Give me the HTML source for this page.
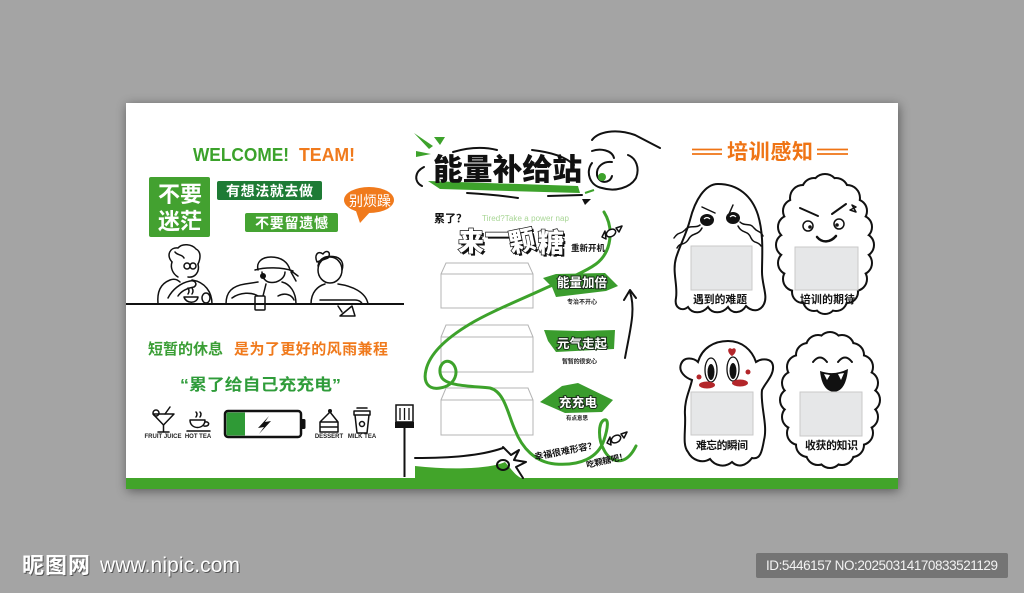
<!DOCTYPE html>
<html><head><meta charset="utf-8"><style>
html,body{margin:0;padding:0;width:1024px;height:593px;overflow:hidden;background:#a4a4a4;}
#board{position:absolute;left:126px;top:103px;width:772px;height:386px;background:#fff;box-shadow:1px 2px 10px rgba(0,0,0,.45);}
svg{position:absolute;left:0;top:0;}
text{font-family:"Liberation Sans","Noto Sans CJK SC",sans-serif;}
.ln{fill:none;stroke:#111;stroke-width:2;stroke-linecap:round;stroke-linejoin:round;}
.ln15{fill:none;stroke:#111;stroke-width:1.5;stroke-linecap:round;stroke-linejoin:round;}
</style></head><body>
<div id="board"></div>
<svg width="1024" height="593" viewBox="0 0 1024 593">
<defs>
<g id="c2">
<circle cx="862" cy="245" r="11"/><circle cx="860" cy="263" r="11"/><circle cx="855" cy="279" r="11"/><circle cx="847" cy="292" r="10"/><circle cx="836" cy="300" r="10"/><circle cx="825" cy="303" r="10"/><circle cx="814" cy="300" r="10"/><circle cx="803" cy="292" r="10"/><circle cx="795" cy="279" r="11"/><circle cx="790" cy="263" r="11"/><circle cx="788" cy="245" r="11"/><circle cx="790" cy="227" r="11"/><circle cx="795" cy="211" r="11"/><circle cx="803" cy="198" r="12"/><circle cx="814" cy="190" r="11"/><circle cx="825" cy="187" r="12"/><circle cx="836" cy="190" r="11"/><circle cx="847" cy="198" r="12"/><circle cx="855" cy="211" r="11"/><circle cx="860" cy="227" r="11"/>
</g>
<g id="c4">
<circle cx="868" cy="400" r="11"/><circle cx="866" cy="417" r="11"/><circle cx="861" cy="433" r="11"/><circle cx="852" cy="445" r="11"/><circle cx="842" cy="453" r="11"/><circle cx="830" cy="456" r="11"/><circle cx="818" cy="453" r="11"/><circle cx="808" cy="445" r="11"/><circle cx="799" cy="433" r="11"/><circle cx="794" cy="417" r="11"/><circle cx="792" cy="400" r="11"/><circle cx="794" cy="383" r="11"/><circle cx="799" cy="367" r="11"/><circle cx="808" cy="355" r="11"/><circle cx="818" cy="347" r="11"/><circle cx="830" cy="344" r="11"/><circle cx="842" cy="347" r="11"/><circle cx="852" cy="355" r="11"/><circle cx="861" cy="367" r="11"/><circle cx="866" cy="383" r="11"/>
</g>
</defs>

<!-- green bottom bar -->
<rect x="126" y="478" width="772" height="11" fill="#42a42a"/>
<path d="M415,478 L415,466 C450,470 490,469 505,462 C512,470 515,475 521,478 Z" fill="#42a42a"/>

<!-- ============ LEFT PANEL ============ -->
<text x="193" y="161" font-size="18" font-weight="bold" fill="#3ba22b" textLength="96" lengthAdjust="spacingAndGlyphs">WELCOME!</text>
<text x="299" y="161" font-size="18" font-weight="bold" fill="#f07a1c" textLength="56" lengthAdjust="spacingAndGlyphs">TEAM!</text>

<rect x="149" y="177" width="61" height="60" rx="2" fill="#43a130"/>
<text x="180" y="202" font-size="22" font-weight="bold" fill="#fff" text-anchor="middle">不要</text>
<text x="180" y="229" font-size="22" font-weight="bold" fill="#fff" text-anchor="middle">迷茫</text>

<rect x="217" y="181" width="105" height="19" rx="2" fill="#1e7b35"/>
<text x="226" y="196" font-size="14" font-weight="bold" fill="#fff" textLength="87">有想法就去做</text>
<rect x="245" y="213" width="93" height="19" rx="2" fill="#45a332"/>
<text x="255" y="228" font-size="14" font-weight="bold" fill="#fff" textLength="73">不要留遗憾</text>

<ellipse cx="369" cy="200" rx="25" ry="13" fill="#f07a1c"/>
<path d="M355,208 L360,223 L371,211 Z" fill="#f07a1c"/>
<text x="349" y="206" font-size="14" fill="#fff" textLength="42">别烦躁</text>

<!-- people -->
<g class="ln15">
<path d="M172,262 C166,255 170,247 178,248 C182,243 192,244 196,249 C202,252 200,260 198,264"/>
<path d="M198,264 C200,272 195,278 188,277"/>
<path d="M172,262 C170,268 173,274 178,277"/>
<path d="M175,252 C178,256 182,254 184,258"/>
<circle cx="187" cy="266" r="3"/><circle cx="193" cy="266" r="3"/>
<path d="M158,304 C157,292 160,284 170,280 C175,278 178,280 180,282"/>
<path d="M192,280 C205,282 212,292 212,304"/>
<path d="M168,298 C172,290 180,283 190,281 C195,280 198,284 194,287 C188,288 182,290 178,296"/>
<path d="M184,297 L198,297 C197,304 186,304 184,297 Z"/>
<path d="M181,304 L201,304"/>
<path d="M188,294 q2,-3 0,-6 M192,294 q2,-3 0,-6"/>
<ellipse cx="206" cy="298" rx="4" ry="5"/>
<path d="M258,270 C256,262 262,257 271,257 C281,257 288,262 290,270"/>
<path d="M255,270 C265,267 282,267 293,271"/>
<path d="M262,272 C262,280 268,284 276,282 C282,280 285,276 285,272"/>
<path d="M290,270 L298,276 M291,272 L296,281"/>
<path d="M226,304 C226,292 232,286 245,284 L258,282"/>
<path d="M282,282 C290,284 296,292 296,304"/>
<path d="M232,298 C240,292 252,292 258,296"/>
<path d="M278,296 C285,292 292,295 294,300"/>
<path d="M266,284 L262,300"/>
<rect x="255" y="296" width="10" height="14" rx="1" fill="#fff"/>
<ellipse cx="330" cy="270" rx="12" ry="13"/>
<path d="M317,262 C314,255 318,250 323,254 C326,249 332,252 328,258 Z"/>
<path d="M318,266 C319,258 326,255 336,257 C342,259 344,264 342,270"/>
<path d="M311,304 C311,292 318,286 325,284"/>
<path d="M338,284 C352,286 366,292 368,304"/>
<path d="M320,300 L355,300 C360,300 362,303 362,304"/>
<path d="M338,306 L342,312 M340,316 L352,306 L355,316 Z"/>
</g>
<circle cx="263" cy="276" r="3" fill="#111"/>
<line x1="126" y1="304" x2="404" y2="304" stroke="#111" stroke-width="2"/>

<text x="148" y="354" font-size="15" font-weight="bold" fill="#3a9e35" textLength="75">短暂的休息</text>
<text x="234" y="354" font-size="15" font-weight="bold" fill="#f07a1c" textLength="154">是为了更好的风雨兼程</text>
<text x="180" y="390" font-size="16" font-weight="bold" fill="#2f9c3a" textLength="161" lengthAdjust="spacingAndGlyphs">“累了给自己充充电”</text>

<!-- icons -->
<g class="ln15">
<path d="M153,414 L174,414 L163.5,425 Z"/>
<path d="M163.5,425 L163.5,432 M158,432 L169,432"/>
<circle cx="156" cy="413" r="3"/>
<path d="M165,414 L170,407"/>
<path d="M190,420 L205,420 C205,430 190,430 190,420 Z"/>
<path d="M205,422 C210,421 210,427 204,426"/>
<path d="M187,431 L210,431"/>
<path d="M196,417 q2,-3 0,-5 M200,417 q2,-3 0,-5"/>
<path d="M320,422 L338,422 L338,432 L320,432 Z M320,422 L330,412 L338,422 M320,427 L338,427"/>
<path d="M355,415 L369,415 L367,433 L357,433 Z M354,411 L370,411 L370,415 L354,415 Z M357,408 L367,408"/>
<circle cx="362" cy="424" r="2.5"/>
</g>
<circle cx="330" cy="411" r="2" fill="#111"/>
<g font-size="6" font-weight="bold" fill="#222" text-anchor="middle">
<text x="163" y="438">FRUIT JUICE</text>
<text x="198" y="438">HOT TEA</text>
<text x="329" y="438">DESSERT</text>
<text x="362" y="438">MILK TEA</text>
</g>
<rect x="225" y="411" width="76" height="26" rx="3" fill="#fff" stroke="#111" stroke-width="2.5"/>
<rect x="226.5" y="412.5" width="18.5" height="23" fill="#2f9a36"/>
<rect x="301" y="419" width="4.5" height="10" rx="1.5" fill="#111"/>
<path d="M269,416 L258,428 L264,427 L259,434 L271,421 L265,422 Z" fill="#111"/>

<rect x="396" y="405" width="17" height="17" fill="#fff" stroke="#111" stroke-width="1.5"/>
<path d="M400,408 L400,420 M404.5,408 L404.5,420 M409,408 L409,420" stroke="#111" stroke-width="1.3"/>
<rect x="395" y="422" width="19" height="6" fill="#111"/>
<line x1="404.5" y1="428" x2="404.5" y2="477" stroke="#111" stroke-width="2"/>

<!-- ============ MIDDLE PANEL ============ -->
<path d="M414,133 L433,146 L429,149 Z" fill="#3da22b"/>
<path d="M434,137 L445,137 L440,145 Z" fill="#3da22b"/>
<path d="M416,151 L431,154 L416,157 Z" fill="#3da22b"/>
<path class="ln" d="M424,167 C414,172 414,182 422,186"/>
<path class="ln" d="M453,152 C470,147 485,147 497,150"/>
<path class="ln" d="M532,150 C550,152 565,156 574,165"/>
<path d="M428,181 L578,186 L580,193 L440,189 Z" fill="#3da22b"/>
<text x="433" y="180" font-size="30" font-weight="900" fill="#111" textLength="149" lengthAdjust="spacingAndGlyphs">能量补给站</text>
<path class="ln" d="M467,193 C485,194 505,196 518,198"/>
<path class="ln" d="M548,196 L582,195"/>
<path d="M582,199 L591,199 L585,205 Z" fill="#111"/>
<path d="M585,193 L594,190" stroke="#3da22b" stroke-width="2"/>

<path class="ln" d="M592,140 C598,132 615,128 635,135 L660,148"/>
<path class="ln" d="M592,151 C600,148 612,150 614,158"/>
<path class="ln" d="M592,163 C585,172 590,186 602,188 C615,192 630,188 636,178 C640,168 636,158 628,155"/>
<path class="ln" d="M612,162 C604,161 596,166 597,175 C599,184 610,184 612,176"/>
<circle cx="602" cy="177" r="4" fill="#3da22b"/>

<text x="434" y="222" font-size="11" font-weight="bold" fill="#111">累了？</text>
<text x="482" y="221" font-size="8" fill="#a8d695" textLength="87">Tired?Take a power nap</text>

<g font-size="26" font-weight="900" fill="#111">
<text x="460" y="253">来</text><text x="487" y="247">一</text>
<text transform="translate(526,252) rotate(-12)" text-anchor="middle">颗</text>
<text x="540" y="254">糖</text>
</g>
<g font-size="26" font-weight="900" fill="#fff" stroke="#111" stroke-width="1.4" paint-order="stroke">
<text x="458" y="251">来</text><text x="485" y="245">一</text>
<text transform="translate(524,250) rotate(-12)" text-anchor="middle">颗</text>
<text x="538" y="252">糖</text>
</g>
<text x="571" y="251" font-size="8.5" font-weight="bold" fill="#111" textLength="34">重新开机</text>

<g fill="#fff" stroke="#b4b4b4" stroke-width="1">
<path d="M441,274 L446,263 L528,263 L533,274 L533,308 L441,308 Z M441,274 L533,274"/>
<path d="M441,337 L446,325 L528,325 L533,337 L533,372 L441,372 Z M441,337 L533,337"/>
<path d="M441,400 L446,388 L528,388 L533,400 L533,435 L441,435 Z M441,400 L533,400"/>
</g>

<path d="M604,212 C614,228 612,252 596,264 C585,272 565,280 548,287 C520,300 490,312 470,324 C450,336 430,352 426,370 C423,382 428,390 440,388 C456,386 460,370 452,363 C444,357 436,368 442,378 C448,386 470,386 490,388 C505,392 508,415 515,430 C522,448 535,462 555,464 C580,466 598,458 604,440 C608,428 609,418 604,420 C598,423 598,440 604,450 C610,462 625,468 636,446" fill="none" stroke="#3da22b" stroke-width="3" stroke-linecap="round"/>

<g class="ln15">
<ellipse cx="611" cy="233" rx="5" ry="3.5" transform="rotate(-30 611 233)" fill="#fff"/>
<path d="M602,237 L605,231 L606,239 Z M616,228 L622,226 L619,232 Z" fill="#fff"/>
<ellipse cx="616" cy="439" rx="5" ry="3.5" transform="rotate(-30 616 439)" fill="#fff"/>
<path d="M607,443 L610,437 L611,445 Z M621,434 L627,432 L624,438 Z" fill="#fff"/>
</g>

<path d="M543,278 L556,274 L605,273 L618,286 L606,291 L556,297 L552,287 Z" fill="#3a9c2d"/>
<path d="M544,330 L578,331 L615,330 L614,349 L556,352 L548,341 Z" fill="#3a9c2d"/>
<path d="M540,402 L562,386 L578,383 L613,400 L602,412 L565,413 Z" fill="#3a9c2d"/>
<g font-weight="bold" fill="#fff" stroke="#1b2e1b" stroke-width="2" paint-order="stroke">
<text x="557" y="287" font-size="12.5" textLength="50">能量加倍</text>
<text x="557" y="348" font-size="12.5" textLength="50">元气走起</text>
<text x="559" y="407" font-size="12.5" textLength="38">充充电</text>
</g>
<g font-weight="bold" fill="#222">
<text x="567" y="304" font-size="6" textLength="30">专治不开心</text>
<text x="562" y="363.5" font-size="6" textLength="35">暂暂的很安心</text>
<text x="566" y="420" font-size="5.5" textLength="22">有点意思</text>
</g>

<path class="ln" d="M625,358 C630,330 636,310 630,292"/>
<path class="ln" d="M624,300 L630,290 L636,298"/>

<text transform="translate(535,460) rotate(-11)" font-size="9" font-weight="bold" fill="#111" textLength="63">幸福很难形容？</text>
<text transform="translate(587,468) rotate(-13)" font-size="8.5" font-weight="bold" fill="#111" textLength="42">吃颗糖吧！</text>

<path class="ln" d="M415,458 C450,458 480,456 503,448"/>
<path class="ln" d="M503,447 L511,455 L519,450 L514,460 L526,462 L516,467 L523,478"/>
<ellipse cx="503" cy="465" rx="6" ry="5" class="ln"/>

<!-- ============ RIGHT PANEL ============ -->
<path d="M692,149.5 L722,149.5 M692,154 L722,154 M817,149.5 L848,149.5 M817,154 L848,154" stroke="#ef7415" stroke-width="1.8"/>
<text x="727" y="159" font-size="21" font-weight="bold" fill="#ef7415" textLength="86">培训感知</text>

<path d="M718,184 C738,184 752,196 758,215 C764,235 762,255 762,272 C762,285 768,296 764,304 C760,312 752,312 746,306 C741,314 732,314 728,307 C722,314 712,314 708,307 C702,314 692,314 688,307 C682,312 674,308 676,298 C678,285 672,272 676,258 C680,245 686,235 690,220 C695,200 705,184 718,184 Z" fill="#fff" stroke="#111" stroke-width="2"/>
<path class="ln15" d="M702,207 L715,213 M733,205 L729,214"/>
<ellipse cx="707" cy="220" rx="7" ry="6" fill="#111"/>
<ellipse cx="733" cy="218" rx="7" ry="6" fill="#111"/>
<path d="M704,219 q3,-3 6,0 M730,217 q3,-3 6,0" stroke="#fff" stroke-width="1.2" fill="none"/>
<path class="ln15" d="M700,225 C695,229 690,224 685,230 C680,235 679,231 674,238"/>
<path class="ln15" d="M702,228 C698,236 692,232 688,240 C684,246 680,242 677,248"/>
<path class="ln15" d="M740,222 C745,227 750,222 754,228 C758,233 760,230 763,236"/>
<path class="ln15" d="M738,226 C742,234 748,230 751,238 C754,244 758,241 761,246"/>

<use href="#c2" fill="#fff" stroke="#111" stroke-width="4"/>
<use href="#c2" fill="#fff" stroke="none"/>
<ellipse cx="825" cy="245" rx="37" ry="58" fill="#fff"/>
<path class="ln" d="M800,208 L818,216 M832,214 L846,204"/>
<circle cx="808" cy="226" r="5" class="ln15"/><circle cx="810" cy="227" r="1.8" fill="#111"/>
<circle cx="839" cy="224" r="5" class="ln15"/><circle cx="837" cy="225" r="1.8" fill="#111"/>
<path d="M817,237 C822,243 830,243 836,236" fill="none" stroke="#111" stroke-width="2.5" stroke-linecap="round"/>
<path class="ln15" d="M852,205 L856,212 L850,210 L856,207 Z"/>

<path d="M728,341 C742,341 752,350 756,362 C762,358 772,358 773,366 C774,375 766,382 762,390 C760,405 768,425 764,440 C762,452 760,460 752,458 C746,466 738,468 732,462 C725,468 715,466 710,459 C702,464 692,460 688,452 C682,445 686,430 685,415 C684,400 690,390 692,380 C686,378 678,372 681,364 C684,356 694,358 698,362 C702,348 714,341 728,341 Z" fill="#fff" stroke="#111" stroke-width="2"/>
<ellipse cx="711" cy="370" rx="6" ry="12" fill="#fff" stroke="#111" stroke-width="1.3"/>
<ellipse cx="733" cy="369" rx="6" ry="12" fill="#fff" stroke="#111" stroke-width="1.3"/>
<ellipse cx="711" cy="372" rx="3.5" ry="8" fill="#111"/>
<ellipse cx="733" cy="371" rx="3.5" ry="8" fill="#111"/>
<ellipse cx="707" cy="385" rx="8" ry="3.5" fill="#b3262a"/>
<ellipse cx="740" cy="383" rx="8" ry="3.5" fill="#b3262a"/>
<path d="M732,356 C726,352 728,346 732,349 C736,346 738,352 732,356 Z" fill="#b3262a"/>
<circle cx="699" cy="377" r="2.5" fill="#b3262a"/>
<circle cx="748" cy="372" r="2.5" fill="#b3262a"/>

<use href="#c4" fill="#fff" stroke="#111" stroke-width="4"/>
<use href="#c4" fill="#fff" stroke="none"/>
<ellipse cx="830" cy="400" rx="38" ry="56" fill="#fff"/>
<path class="ln" d="M813,362 Q820,353 827,362 M838,362 Q845,353 852,362"/>
<path d="M820,371 Q834,376 848,369 Q846,391 834,392 Q822,391 820,371 Z" fill="#111"/>
<path d="M824,374 L827,380 L830,375 Z M838,374 L841,380 L844,373 Z" fill="#fff"/>

<g fill="#e6e7e8" stroke="#c9c9c9" stroke-width="1">
<rect x="691" y="246" width="61" height="44"/>
<rect x="795" y="247" width="63" height="43"/>
<rect x="691" y="392" width="62" height="43"/>
<rect x="800" y="392" width="62" height="44"/>
</g>
<g font-size="10.8" font-weight="bold" fill="#111">
<text x="693" y="303" textLength="54">遇到的难题</text>
<text x="800" y="303" textLength="55">培训的期待</text>
<text x="696" y="449" textLength="52">难忘的瞬间</text>
<text x="805" y="449" textLength="53">收获的知识</text>
</g>

<!-- ============ WATERMARK ============ -->
<text x="23" y="574" font-size="22" font-weight="bold" fill="#555" textLength="68">昵图网</text>
<text x="22" y="573" font-size="22" font-weight="bold" fill="#fff" textLength="68">昵图网</text>
<text x="101" y="573" font-size="21" fill="#555" textLength="140">www.nipic.com</text>
<text x="100" y="572" font-size="21" fill="#fff" textLength="140">www.nipic.com</text>
<rect x="756" y="553" width="252" height="25" rx="2" fill="#747474"/>
<text x="766" y="570" font-size="13.5" fill="#f2f2f2" textLength="232">ID:5446157 NO:20250314170833521129</text>
</svg>
</body></html>
